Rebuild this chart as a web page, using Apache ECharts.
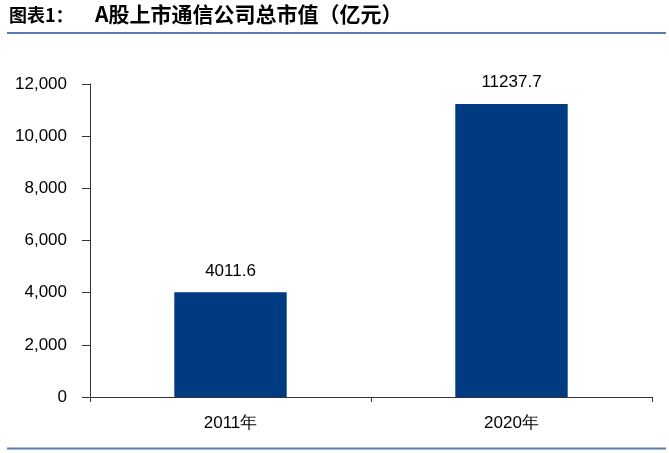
<!DOCTYPE html>
<html><head><meta charset="utf-8">
<script src="https://cdn.jsdelivr.net/npm/echarts@6/dist/echarts.min.js"></script>
<style>html,body{margin:0;padding:0;background:#fff}#c{width:669px;height:453px}</style>
</head><body><div id="c"></div>
<script>
const categories = ['2011年', '2020年'];
const values = [4011.6, 11237.7];
const yTicks = [0, 2000, 4000, 6000, 8000, 10000, 12000];
const titlePrefix = '图表1：';
const titleText = 'A股上市通信公司总市值（亿元）';

const chart = echarts.init(document.getElementById('c'), null, {renderer: 'canvas'});
const font = '"Liberation Sans", Arial, sans-serif';
const cjk = '"Noto Sans CJK SC", sans-serif';
chart.setOption({
  animation: false,
  graphic: [
    {type: 'text', left: 9, top: 6, style: {text: titlePrefix, font: 'bold 18px ' + cjk, fill: '#000'}},
    {type: 'text', left: 95, top: 4, style: {text: titleText, font: 'bold 21px ' + cjk, fill: '#000'}},
    {type: 'line', shape: {x1: 7, y1: 33, x2: 666, y2: 33}, style: {stroke: '#5b7dab', lineWidth: 2}},
    {type: 'line', shape: {x1: 7, y1: 448.5, x2: 666, y2: 448.5}, style: {stroke: '#5b7dab', lineWidth: 2}}
  ],
  grid: {left: 90, right: 17, top: 84, bottom: 56},
  xAxis: {
    type: 'category', data: categories,
    axisLine: {lineStyle: {color: '#333', width: 1}},
    axisTick: {show: true, length: 5, lineStyle: {color: '#333'}},
    axisLabel: {fontFamily: font, fontSize: 17, color: '#000', margin: 18}
  },
  yAxis: {
    type: 'value', min: yTicks[0], max: yTicks[yTicks.length - 1], interval: 2000,
    axisLine: {show: true, lineStyle: {color: '#333', width: 1}},
    axisTick: {show: true, length: 8, lineStyle: {color: '#333'}},
    splitLine: {show: false},
    axisLabel: {fontFamily: font, fontSize: 17, color: '#000', margin: 23,
      formatter: v => v.toLocaleString('en-US')}
  },
  series: [{
    type: 'bar', data: values, barCategoryGap: '60%',
    itemStyle: {color: '#003a80'},
    label: {show: true, position: 'top', distance: 13, fontFamily: font, fontSize: 17, color: '#000',
      formatter: p => p.value.toFixed(1)}
  }]
});
</script></body></html>
